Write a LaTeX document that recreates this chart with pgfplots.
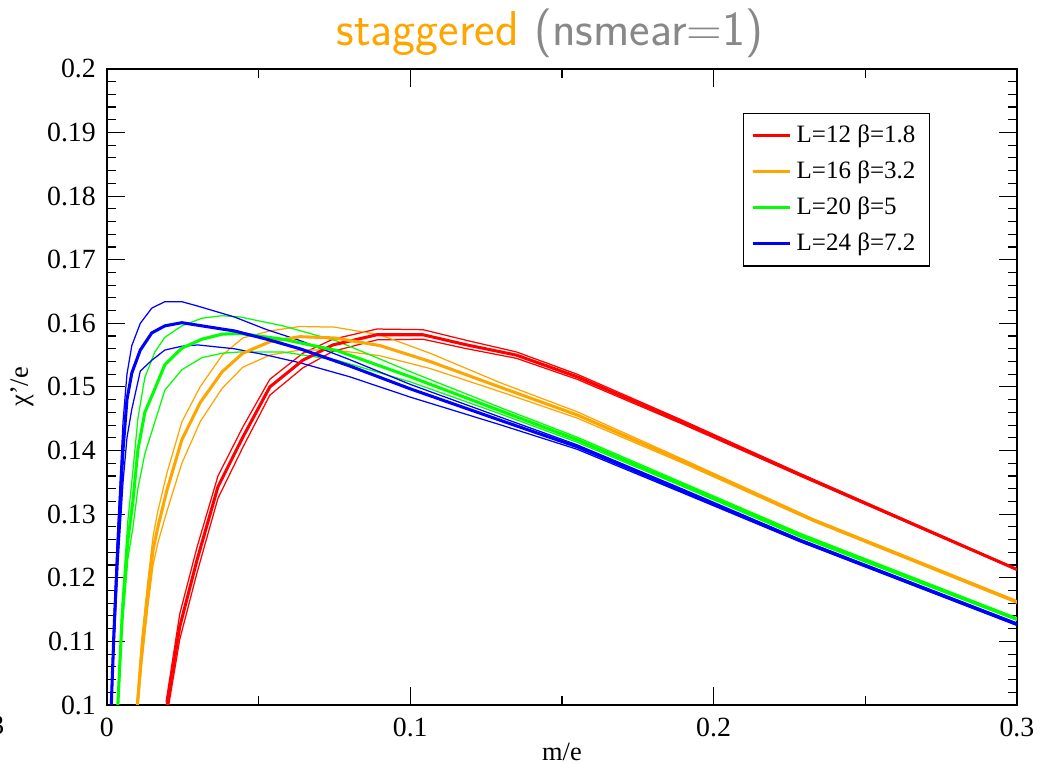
\documentclass[border=0pt]{standalone}
\usepackage{fontspec}
\setmainfont{Liberation Serif}
\usepackage{pgfplots}
\usepackage{pgfplotstable}
\pgfplotsset{compat=1.18}
\definecolor{myorange}{RGB}{255,165,0}
\definecolor{mygreen}{RGB}{0,255,0}
\definecolor{titlegray}{RGB}{136,136,136}

\pgfplotstableread{
x c u l
0.0012 0.097 0.098 0.096
0.0023 0.1113 0.1135 0.109
0.0036 0.1252 0.128 0.122
0.0053 0.1401 0.1445 0.135
0.0066 0.148 0.152 0.142
0.0082 0.1522 0.1565 0.1465
0.011 0.1558 0.160 0.1525
0.0148 0.1585 0.1624 0.1542
0.0191 0.1596 0.1634 0.1558
0.0247 0.1601 0.1634 0.1564
0.030 0.1597 0.1627 0.1566
0.042 0.1588 0.161 0.1560
0.0527 0.1575 0.159 0.1550
0.0636 0.156 0.1573 0.1538
0.08 0.1533 0.1543 0.1516
0.1 0.1497 0.1504 0.1484
0.13 0.1447 0.1452 0.1440
0.155 0.1406 0.1409 0.1402
0.19 0.1336 0.1339 0.1333
0.2283 0.1259 0.1261 0.1257
0.3 0.1127 0.1129 0.1125
}\bluetab

\pgfplotstableread{
x c u l
0.0034 0.098 0.099 0.097
0.005 0.1138 0.116 0.112
0.0069 0.1259 0.129 0.123
0.0086 0.1322 0.137 0.128
0.0102 0.1401 0.145 0.134
0.0125 0.146 0.1515 0.1395
0.0158 0.1497 0.1555 0.1445
0.0191 0.1535 0.1578 0.1495
0.0247 0.1561 0.1596 0.1527
0.0313 0.1575 0.1608 0.1546
0.038 0.1583 0.1612 0.1553
0.0439 0.1584 0.161 0.1555
0.058 0.1575 0.1596 0.1555
0.0759 0.1557 0.1572 0.1542
0.1 0.1516 0.1524 0.1508
0.13 0.1462 0.1467 0.1457
0.155 0.1417 0.1421 0.1413
0.19 0.1346 0.1349 0.1343
0.2285 0.1267 0.127 0.1264
0.3 0.1135 0.1137 0.1133
}\greentab

\pgfplotstableread{
x c u l
0.0097 0.098 0.0995 0.097
0.0115 0.1086 0.1105 0.1065
0.0135 0.1176 0.1195 0.1155
0.0152 0.1244 0.1265 0.122
0.0168 0.128 0.1305 0.1255
0.0198 0.1338 0.1365 0.1305
0.0247 0.1417 0.1445 0.138
0.0307 0.1475 0.150 0.1445
0.038 0.1524 0.155 0.1498
0.0448 0.1553 0.1577 0.1531
0.0537 0.1571 0.1588 0.155
0.0636 0.1579 0.1595 0.1558
0.075 0.1577 0.1594 0.1558
0.09 0.1565 0.1582 0.1549
0.1065 0.154 0.1553 0.1529
0.13 0.1499 0.1506 0.1492
0.155 0.1456 0.1461 0.1451
0.19 0.1383 0.1386 0.138
0.2327 0.1291 0.1293 0.1289
0.3 0.1162 0.1164 0.116
}\orangetab

\pgfplotstableread{
x c u l
0.0195 0.099 0.1005 0.0975
0.024 0.1123 0.1143 0.1103
0.0297 0.1228 0.1248 0.1208
0.0366 0.1343 0.136 0.1325
0.0448 0.1421 0.1437 0.1405
0.0537 0.150 0.1512 0.1487
0.0646 0.1542 0.1553 0.153
0.0745 0.1566 0.1575 0.1556
0.089 0.1582 0.1591 0.1574
0.1042 0.1582 0.159 0.1575
0.1187 0.1566 0.1573 0.156
0.135 0.155 0.1555 0.1545
0.155 0.1516 0.152 0.1512
0.19 0.1444 0.1447 0.1441
0.2285 0.1362 0.1364 0.136
0.3 0.1213 0.1214 0.1212
}\redtab

\begin{document}
\begin{tikzpicture}
\useasboundingbox (-38.5pt,-20.9pt) rectangle (339.5pt,253.8pt);
\begin{axis}[
  scale only axis,
  width=327.6pt, height=229pt,
  xmin=0, xmax=0.3, ymin=0.1, ymax=0.2,
  xtick={0,0.1,0.2,0.3},
  minor xtick={0.05,0.15,0.25},
  ytick={0.1,0.11,0.12,0.13,0.14,0.15,0.16,0.17,0.18,0.19,0.2},
  minor y tick num=4,
  scaled ticks=false,
  tick align=inside,
  major tick length=6.5pt,
  minor tick length=3.2pt,
  every tick/.style={black, line width=0.4pt},
  axis line style={line width=0.8pt},
  /pgf/number format/assume math mode=true,
  ticklabel style={font=\fontsize{10}{12}\selectfont},
  xticklabel style={yshift=-1pt},
  yticklabel style={xshift=-0.5pt},
  xlabel={m/e},
  ylabel={χ'/e},
  label style={font=\fontsize{9.5}{11}\selectfont},
  xlabel style={yshift=4.5pt},
  ylabel style={yshift=-2pt},
  legend style={at={(0.699,0.931)}, anchor=north west, draw=black,
    font=\fontsize{9}{11}\selectfont, inner xsep=3pt, inner ysep=2pt,
    row sep=1.2pt},
  legend cell align=left,
  legend image code/.code={\draw[#1, line width=1.1pt] (0pt,0pt) -- (13pt,0pt);},
]
\addplot[red, line width=0.45pt, forget plot] table[x=x,y=u]{\redtab};
\addplot[red, line width=0.45pt, forget plot] table[x=x,y=l]{\redtab};
\addplot[myorange, line width=0.45pt, forget plot] table[x=x,y=u]{\orangetab};
\addplot[myorange, line width=0.45pt, forget plot] table[x=x,y=l]{\orangetab};
\addplot[mygreen, line width=0.45pt, forget plot] table[x=x,y=u]{\greentab};
\addplot[mygreen, line width=0.45pt, forget plot] table[x=x,y=l]{\greentab};
\addplot[blue, line width=0.45pt, forget plot] table[x=x,y=u]{\bluetab};
\addplot[blue, line width=0.45pt, forget plot] table[x=x,y=l]{\bluetab};
\addplot[red, line width=1.1pt] table[x=x,y=c]{\redtab};
\addlegendentry{L=12 β=1.8}
\addplot[myorange, line width=1.1pt] table[x=x,y=c]{\orangetab};
\addlegendentry{L=16 β=3.2}
\addplot[mygreen, line width=1.1pt] table[x=x,y=c]{\greentab};
\addlegendentry{L=20 β=5}
\addplot[blue, line width=1.1pt] table[x=x,y=c]{\bluetab};
\addlegendentry{L=24 β=7.2}
\end{axis}
\node[font=\sffamily\fontsize{17.6}{20}\selectfont, anchor=base] at (159.5pt,237.5pt)
  {\textcolor{myorange}{staggered} \textcolor{titlegray}{(nsmear=1)}};
\node[font=\fontsize{10}{12}\selectfont, anchor=base] at (-39.5pt,-10.5pt) {3};
\end{tikzpicture}
\end{document}
